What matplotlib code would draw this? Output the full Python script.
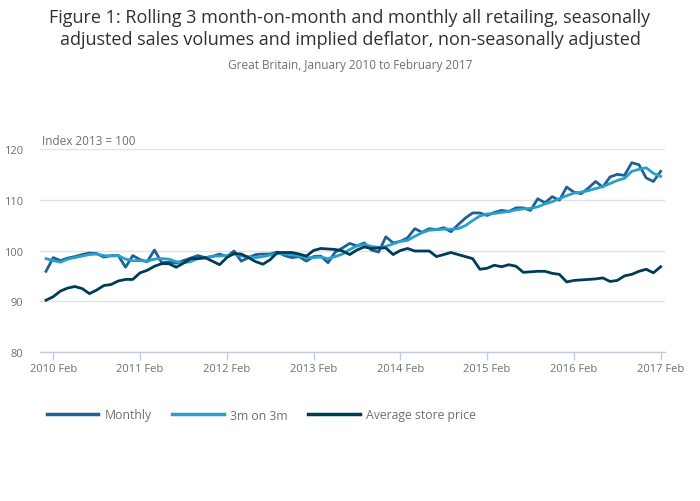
import matplotlib
matplotlib.use("Agg")
import matplotlib.pyplot as plt
from matplotlib.lines import Line2D

plt.rcParams['font.family'] = ['Open Sans', 'DejaVu Sans']

tick_labels = ["2010 Feb", "2011 Feb", "2012 Feb", "2013 Feb", "2014 Feb",
               "2015 Feb", "2016 Feb", "2017 Feb"]

# Monthly index Jan 2010 .. Feb 2017 (86 months)
monthly = [95.9, 98.6, 98.0, 98.5, 98.8, 99.2, 99.5, 99.4, 98.7, 99.0,
           99.0, 96.7, 99.0, 98.2, 97.8, 100.1, 97.6, 97.7, 97.5, 98.0,
           98.5, 99.0, 98.6, 98.8, 99.3, 98.8, 99.9, 97.9, 98.6, 99.2,
           99.3, 99.3, 99.7, 99.0, 98.6, 98.8, 97.9, 98.8, 98.9, 97.6,
           99.7, 100.5, 101.4, 100.9, 101.5, 100.1, 99.7, 102.7, 101.5, 101.8,
           102.5, 104.3, 103.6, 104.3, 104.1, 104.5, 103.7, 105.1, 106.4, 107.4,
           107.4, 106.9, 107.5, 107.9, 107.7, 108.4, 108.4, 107.9, 110.2, 109.4,
           110.6, 109.9, 112.5, 111.5, 111.2, 112.3, 113.6, 112.5, 114.5, 115.0,
           114.8, 117.3, 116.9, 114.3, 113.6, 115.6]
three_m = [98.4, 98.0, 97.7, 98.3, 98.6, 98.9, 99.2, 99.3, 99.0, 98.9,
           99.0, 98.3, 98.0, 98.0, 97.9, 98.3, 98.4, 98.3, 97.8, 97.6,
           97.8, 98.4, 98.5, 98.9, 98.9, 99.0, 99.3, 98.9, 98.8, 98.6,
           98.8, 99.1, 99.4, 99.3, 99.2, 98.9, 98.6, 98.6, 98.7, 98.4,
           98.8, 99.3, 100.2, 100.9, 101.2, 100.8, 100.6, 100.8, 101.3, 101.8,
           102.0, 102.8, 103.5, 104.0, 104.1, 104.2, 104.2, 104.3, 104.9, 105.9,
           106.8, 107.2, 107.3, 107.5, 107.7, 108.0, 108.2, 108.3, 108.6, 109.2,
           109.6, 110.2, 110.8, 111.3, 111.5, 111.8, 112.2, 112.6, 113.2, 113.8,
           114.2, 115.6, 116.0, 116.3, 115.2, 114.6]
store_price = [90.2, 90.9, 92.0, 92.6, 92.9, 92.5, 91.5, 92.2, 93.1, 93.3,
               94.0, 94.3, 94.3, 95.6, 96.1, 96.9, 97.4, 97.4, 96.7, 97.5,
               98.4, 98.4, 98.6, 97.9, 97.2, 98.6, 99.4, 99.3, 98.6, 97.8,
               97.3, 98.2, 99.6, 99.6, 99.6, 99.3, 98.9, 100.0, 100.4, 100.3,
               100.2, 99.9, 99.2, 100.1, 100.7, 100.4, 100.5, 100.5, 99.2, 100.0,
               100.4, 99.9, 99.9, 99.9, 98.8, 99.2, 99.6, 99.2, 98.8, 98.4,
               96.3, 96.5, 97.1, 96.8, 97.2, 96.9, 95.7, 95.8, 95.9, 95.9,
               95.5, 95.3, 93.8, 94.1, 94.2, 94.3, 94.4, 94.6, 93.9, 94.1,
               95.0, 95.3, 95.9, 96.3, 95.6, 96.8]

x = list(range(len(store_price)))

fig = plt.figure(figsize=(7.0, 5.02), dpi=100)
ax = fig.add_axes([40/700, 1-353/502, 625/700, 203/502])

c_month = "#206095"
c_3m = "#27a0cc"
c_store = "#003c57"

ax.plot(range(len(monthly)), monthly, color=c_month, lw=2.0, zorder=3)
ax.plot(range(len(three_m)), three_m, color=c_3m, lw=2.0, zorder=4)
ax.plot(x, store_price, color=c_store, lw=2.0, zorder=5)

ax.set_xlim(-0.83, 85.6)
ax.set_ylim(80, 120)
ax.set_yticks([80, 90, 100, 110, 120])
ax.set_xticks([1 + 12*k for k in range(len(tick_labels))])
ax.set_xticklabels(tick_labels)
ax.grid(axis='y', color='#e2e2e2', lw=1)
ax.set_axisbelow(True)
for s in ['top', 'right', 'left']:
    ax.spines[s].set_visible(False)
ax.spines['bottom'].set_color('#c0cce0')
ax.spines['bottom'].set_linewidth(1)
ax.tick_params(axis='x', colors='#c0cce0', length=6, width=1, labelcolor='#707071',
               labelsize=8, pad=2)
ax.tick_params(axis='y', length=0, labelcolor='#707071', labelsize=8, pad=12)

fig.text(0.5, 1-18/502, "Figure 1: Rolling 3 month-on-month and monthly all retailing, seasonally",
         ha='center', va='center', fontsize=13, color='#323132')
fig.text(0.5, 1-40/502, "adjusted sales volumes and implied deflator, non-seasonally adjusted",
         ha='center', va='center', fontsize=13, color='#323132')
fig.text(0.5, 1-65/502, "Great Britain, January 2010 to February 2017",
         ha='center', va='center', fontsize=8.5, color='#707071')
fig.text(42/700, 1-142/502, "Index 2013 = 100", ha='left', va='center',
         fontsize=8.5, color='#707071')

handles = [Line2D([0], [0], color=c_month, lw=2.5),
           Line2D([0], [0], color=c_3m, lw=2.5),
           Line2D([0], [0], color=c_store, lw=2.5)]
leg = fig.legend(handles, ["Monthly", "3m on 3m", "Average store price"],
                 loc='center left', bbox_to_anchor=(47/700, 1-416/502), ncol=3,
                 frameon=False, fontsize=8.8, handlelength=4.2, handletextpad=0.5,
                 columnspacing=1.7, borderaxespad=0, borderpad=0)
for t in leg.get_texts():
    t.set_color('#707071')

fig.savefig("out.png", dpi=100)
